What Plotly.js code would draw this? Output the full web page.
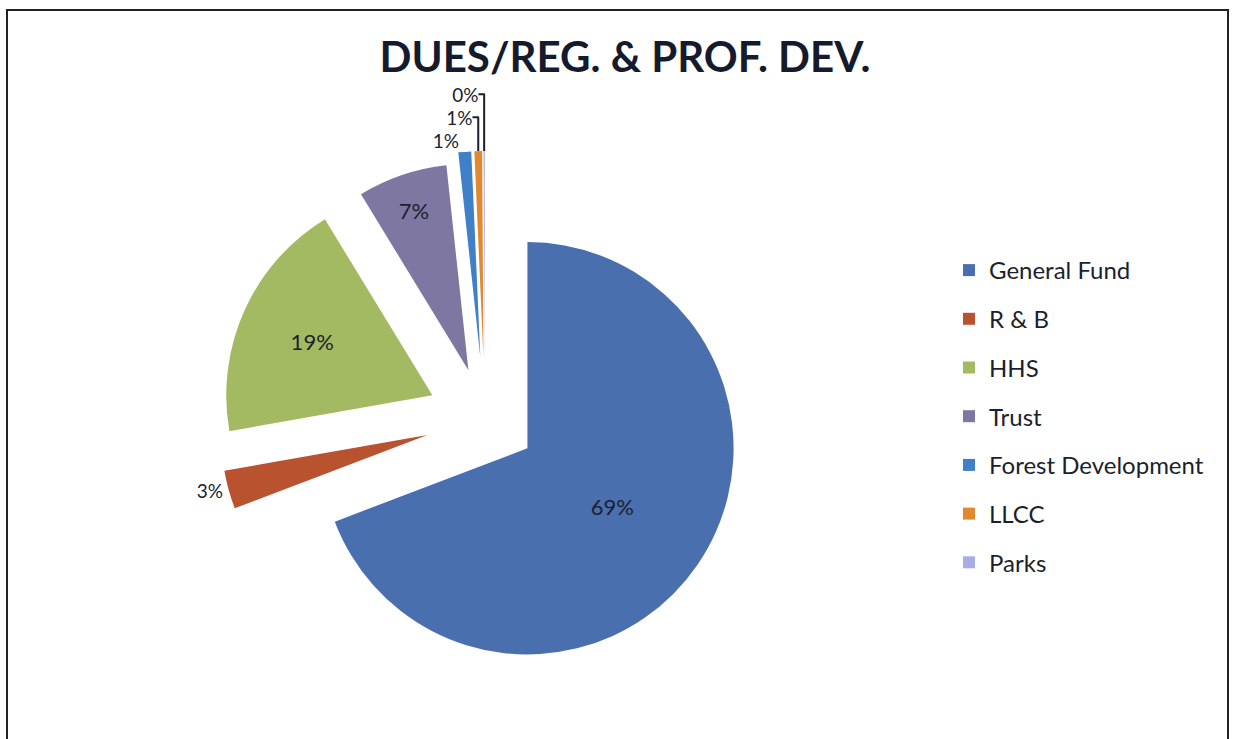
<!DOCTYPE html>
<html>
<head>
<meta charset="utf-8">
<script src="https://cdn.plot.ly/plotly-3.0.1.min.js"></script>
<style>html,body{margin:0;padding:0;background:#fff;}#chart{width:1235px;height:739px;}</style>
</head>
<body>
<div id="chart"></div>
<script>
// ---- data ----
const categories = ["General Fund", "R & B", "HHS", "Trust", "Forest Development", "LLCC", "Parks"];
const shares = [69, 3, 19, 7, 1, 0.6, 0.1];
const titleText = "DUES/REG. & PROF. DEV.";

// ---- styles ----
const colors = ["#4A6FAF", "#B8522F", "#A4BA62", "#7E77A2", "#3F80C8", "#E2882F", "#A8AEE4"];
const pulls = [0.25, 0.29, 0.28, 0.25, 0.3, 0.3, 0.3];
const textPos = ["inside", "outside", "inside", "inside", "outside", "outside", "outside"];
const FONT = "Lato, 'Open Sans', sans-serif";
const W = 1235, H = 739;
const CX = 485, CY = H - 419, HALF = 268;

const pie = {
  type: "pie",
  labels: categories,
  values: shares,
  sort: false,
  direction: "clockwise",
  rotation: 0,
  pull: pulls,
  marker: {colors: colors, line: {width: 0}},
  texttemplate: "%{percent:.0%}",
  textposition: textPos,
  insidetextorientation: "horizontal",
  insidetextfont: {family: FONT, size: 22, color: "#1c1f2e"},
  outsidetextfont: {family: FONT, size: 19, color: "#1c1f2e"},
  showlegend: false,
  hoverinfo: "label+percent",
  domain: {x: [(CX - HALF) / W, (CX + HALF) / W], y: [(CY - HALF) / H, (CY + HALF) / H]}
};

const legendTraces = categories.map((c, i) => ({
  type: "scatter",
  mode: "markers",
  x: [null], y: [null],
  name: c,
  legendgroup: "g" + i,
  marker: {symbol: "square", size: 12, color: colors[i]},
  hoverinfo: "skip"
}));

const layout = {
  width: W, height: H,
  margin: {l: 0, r: 0, t: 0, b: 0},
  paper_bgcolor: "#ffffff",
  plot_bgcolor: "#ffffff",
  title: {
    text: "<b>" + titleText + "</b>",
    x: 625 / W, xanchor: "center",
    y: (H - 57) / H, yanchor: "middle",
    font: {family: FONT, size: 42, color: "#151a2c"}
  },
  xaxis: {visible: false, domain: [0.99, 1]},
  yaxis: {visible: false, domain: [0.99, 1]},
  showlegend: true,
  legend: {
    x: 949 / W, xanchor: "left",
    y: (H - 248) / H, yanchor: "top",
    traceorder: "grouped",
    tracegroupgap: 14.5,
    font: {family: FONT, size: 24, color: "#1c1f2e"},
    bgcolor: "rgba(0,0,0,0)",
    itemclick: false
  },
  shapes: [{
    type: "rect", xref: "paper", yref: "paper",
    x0: 7 / W, x1: 1228 / W, y0: -0.05, y1: (H - 10) / H,
    line: {color: "#222222", width: 2}, fillcolor: "rgba(0,0,0,0)"
  }]
};

Plotly.newPlot("chart", [pie].concat(legendTraces), layout, {displayModeBar: false, staticPlot: true});
</script>
</body>
</html>
